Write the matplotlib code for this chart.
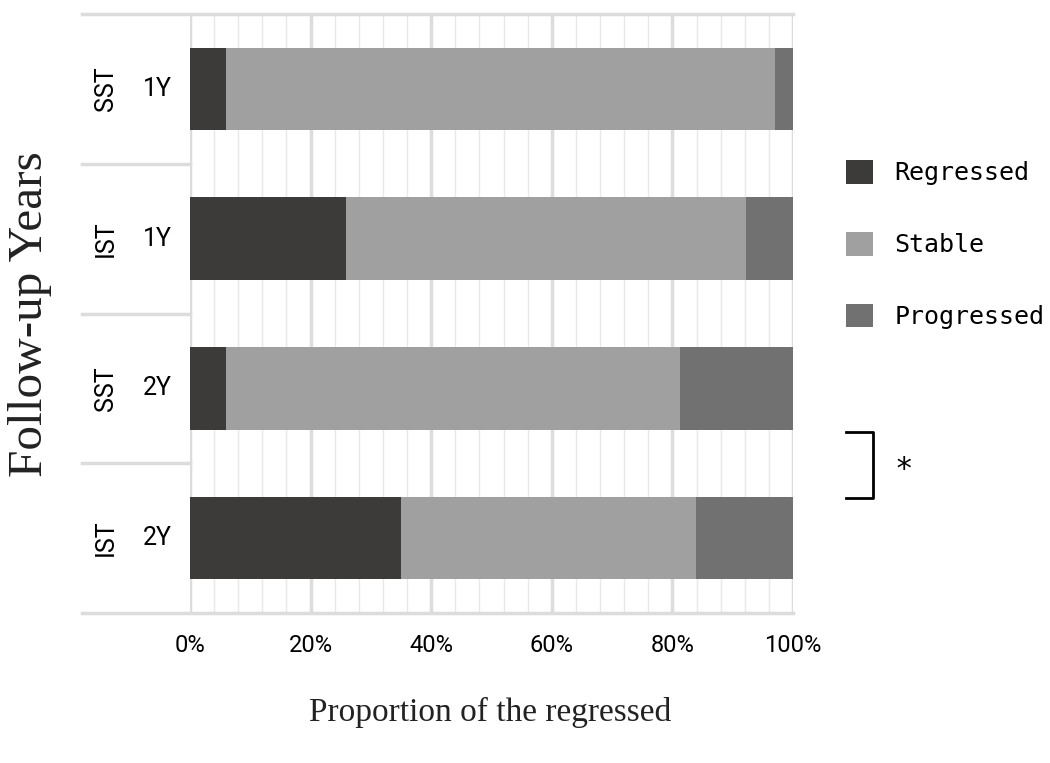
import numpy as np
import matplotlib.pyplot as plt
from matplotlib.lines import Line2D

# 数据
groups = ["SST", "IST", "SST", "IST"]
years = ["1Y", "1Y", "2Y", "2Y"]
regressed = [6.0, 25.9, 6.0, 35.0]
stable = [91.0, 66.3, 75.3, 48.9]
progressed = [3.0, 7.8, 18.7, 16.1]
series_names = ["Regressed", "Stable", "Progressed"]
colors = ["#3d3a3a", "#a0a0a0", "#717171"]
xticks = [0, 20, 40, 60, 80, 100]
xtick_labels = ["0%", "20%", "40%", "60%", "80%", "100%"]

W, H = 1050, 763
fig = plt.figure(figsize=(W / 100, H / 100), dpi=100)
# 绘图区域 (像素 -> 比例)
x0, x1, y0, y1 = 190, 793, 14, 613
ax = fig.add_axes([x0 / W, 1 - y1 / H, (x1 - x0) / W, (y1 - y0) / H])

y = np.arange(len(groups))
left = np.zeros(len(groups))
handles = []
for vals, name, c in zip([regressed, stable, progressed], series_names, colors):
    b = ax.barh(y, vals, left=left, height=0.55, color=c, label=name, zorder=3)
    handles.append(b)
    left = left + np.array(vals)

ax.set_xlim(0, 100)
ax.set_ylim(len(groups) - 0.5, -0.5)

# 网格线
for v in np.arange(0, 101, 4):
    major = v % 20 == 0
    ax.axvline(v, color="#dcdcdc" if major else "#e8e8e8",
               lw=2.5 if major else 1.0, zorder=1)
for s in ax.spines.values():
    s.set_visible(False)

# 左侧表头的横线
lx = (82 - x0) / (x1 - x0)
for k in range(len(groups) + 1):
    yy = k - 0.5
    xe = 1.0 if k in (0, len(groups)) else 0.0
    ax.plot([lx, xe], [yy, yy], color="#dcdcdc", lw=2.5,
            transform=ax.get_yaxis_transform(), clip_on=False, zorder=2)

# 表头文字
for i, (g, yr) in enumerate(zip(groups, years)):
    ax.text((157 - x0) / (x1 - x0), i, yr, transform=ax.get_yaxis_transform(),
            ha="center", va="center", fontsize=18, family="Roboto")
    ax.text((106 - x0) / (x1 - x0), i, g, transform=ax.get_yaxis_transform(),
            ha="center", va="center", fontsize=18, family="Roboto", rotation=90)

ax.set_yticks([])
ax.set_xticks(xticks)
ax.set_xticklabels(xtick_labels, fontsize=17, family="Roboto")
ax.tick_params(axis="x", length=0, pad=15)

fig.text(490 / W, 1 - 712 / H, "Proportion of the regressed", ha="center", va="center",
         fontsize=24, family="Liberation Serif", color="#222222")
fig.text(30 / W, 1 - 314 / H, "Follow-up Years", ha="center", va="center",
         fontsize=35.5, family="Liberation Serif", rotation=90, color="#222222")

# 图例
fig.legend(handles=handles, labels=series_names, loc="upper left",
           bbox_to_anchor=(846 / W, 1 - 160 / H), frameon=False,
           borderpad=0, borderaxespad=0,
           prop={"family": "DejaVu Sans Mono", "size": 18},
           handlelength=1.08, handleheight=1.08, labelspacing=1.86, handletextpad=0.85)

# 显著性括号
bx = [846 / W, 873 / W, 873 / W, 846 / W]
by = [1 - 432 / H, 1 - 432 / H, 1 - 498 / H, 1 - 498 / H]
fig.add_artist(Line2D(bx, by, color="black", lw=2))
fig.text(904 / W, 1 - 469 / H, "*", ha="center", va="center", fontsize=22,
         family="DejaVu Sans Mono")

fig.savefig("out.png", dpi=100, facecolor="white")
